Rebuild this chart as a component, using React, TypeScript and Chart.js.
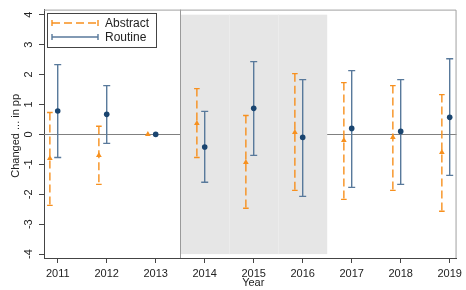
import React, { useEffect, useRef } from "react";
import { Chart, registerables } from "chart.js";
Chart.register(...registerables);

const years = [2011, 2012, 2013, 2014, 2015, 2016, 2017, 2018, 2019];
const abstractEst = [-0.8, -0.7, 0, 0.37, -0.93, 0.07, -0.2, -0.1, -0.6];
const abstractLo = [-2.37, -1.67, null, -0.77, -2.47, -1.87, -2.17, -1.87, -2.57];
const abstractHi = [0.73, 0.27, null, 1.53, 0.63, 2.03, 1.73, 1.63, 1.33];
const routineEst = [0.78, 0.67, 0, -0.42, 0.87, -0.1, 0.2, 0.1, 0.57];
const routineLo = [-0.77, -0.3, null, -1.6, -0.7, -2.07, -1.77, -1.67, -1.37];
const routineHi = [2.33, 1.63, null, 0.77, 2.43, 1.83, 2.13, 1.83, 2.53];
const yTicks = [-4, -3, -2, -1, 0, 1, 2, 3, 4];
const shadeFrom = 2013.5;
const shadeTo = 2016.5;
const shadeInner = [2014.5, 2015.5];
const shadeYMin = -4;
const shadeYMax = 4;
const abstractOffset = -0.16;

const ORANGE = "#f7901e";
const BLUE_BAR = "#58799b";
const NAVY = "#1a4570";
const FONT = "Liberation Sans, Arial, sans-serif";

const plugin = {
  id: "stataDecor",
  beforeDatasetsDraw(chart: any) {
    const { ctx, chartArea: a, scales } = chart;
    const x = scales.x, y = scales.y;
    ctx.save();
    const y0 = Math.round(y.getPixelForValue(0)) + 0.5;
    ctx.strokeStyle = "#808080";
    ctx.lineWidth = 1;
    ctx.beginPath();
    ctx.moveTo(a.left, y0);
    ctx.lineTo(a.right, y0);
    ctx.stroke();
    const sx1 = x.getPixelForValue(shadeFrom);
    const sx2 = x.getPixelForValue(shadeTo);
    const sy1 = y.getPixelForValue(shadeYMax);
    const sy2 = y.getPixelForValue(shadeYMin);
    ctx.fillStyle = "#e6e6e6";
    ctx.fillRect(sx1, sy1, sx2 - sx1, sy2 - sy1);
    ctx.strokeStyle = "#ececec";
    shadeInner.forEach((v) => {
      const px = Math.round(x.getPixelForValue(v)) + 0.5;
      ctx.beginPath();
      ctx.moveTo(px, sy1);
      ctx.lineTo(px, sy2);
      ctx.stroke();
    });
    const vx = Math.round(sx1) + 0.5;
    ctx.strokeStyle = "#9a9a9a";
    ctx.beginPath();
    ctx.moveTo(vx, a.top);
    ctx.lineTo(vx, a.bottom);
    ctx.stroke();
    chart.data.datasets.forEach((ds: any) => {
      ctx.strokeStyle = ds.barColor;
      ctx.lineWidth = 1.4;
      ds.data.forEach((pt: any, i: number) => {
        const lo = ds.errLo[i], hi = ds.errHi[i];
        if (lo == null || hi == null) return;
        const px = x.getPixelForValue(pt.x);
        const pl = y.getPixelForValue(lo);
        const ph = y.getPixelForValue(hi);
        ctx.setLineDash(ds.dash);
        ctx.beginPath();
        ctx.moveTo(px, ph);
        ctx.lineTo(px, pl);
        ctx.stroke();
        ctx.setLineDash([]);
        ctx.beginPath();
        ctx.moveTo(px - ds.capW, ph);
        ctx.lineTo(px + ds.capW, ph);
        ctx.moveTo(px - ds.capW, pl);
        ctx.lineTo(px + ds.capW, pl);
        ctx.stroke();
      });
    });
    ctx.restore();
  },
  afterDraw(chart: any) {
    const { ctx, chartArea: a, scales } = chart;
    const y = scales.y;
    ctx.save();
    ctx.strokeStyle = "#a0a0a0";
    ctx.lineWidth = 1;
    ctx.beginPath();
    ctx.moveTo(a.left, a.top + 0.5);
    ctx.lineTo(a.right - 0.5, a.top + 0.5);
    ctx.lineTo(a.right - 0.5, a.bottom);
    ctx.stroke();
    ctx.fillStyle = "#222";
    ctx.font = `11px ${FONT}`;
    ctx.textAlign = "center";
    ctx.textBaseline = "middle";
    yTicks.forEach((v) => {
      const py = y.getPixelForValue(v);
      ctx.save();
      ctx.translate(29, py);
      ctx.rotate(-Math.PI / 2);
      ctx.fillText(String(v), 0, 0);
      ctx.restore();
    });
    ctx.save();
    ctx.translate(16, (a.top + a.bottom) / 2 + 2);
    ctx.rotate(-Math.PI / 2);
    ctx.font = `11px ${FONT}`;
    ctx.fillText("Changed ... in pp", 0, 0);
    ctx.restore();
    ctx.font = `11px ${FONT}`;
    ctx.fillText("Year", (a.left + a.right) / 2 + 3, 283);
    const lx = 47.5, ly = 13.5, lw = 109, lh = 34;
    ctx.fillStyle = "#fff";
    ctx.fillRect(lx, ly, lw, lh);
    ctx.strokeStyle = "#444";
    ctx.strokeRect(lx, ly, lw, lh);
    const entries = [
      { label: "Abstract", color: ORANGE, dash: [8, 4], yy: 23 },
      { label: "Routine", color: BLUE_BAR, dash: [], yy: 37 },
    ];
    entries.forEach((e) => {
      ctx.strokeStyle = e.color;
      ctx.lineWidth = 1.4;
      ctx.setLineDash(e.dash);
      ctx.beginPath();
      ctx.moveTo(52, e.yy);
      ctx.lineTo(98, e.yy);
      ctx.stroke();
      ctx.setLineDash([]);
      ctx.beginPath();
      ctx.moveTo(52, e.yy - 3);
      ctx.lineTo(52, e.yy + 3);
      ctx.moveTo(98, e.yy - 3);
      ctx.lineTo(98, e.yy + 3);
      ctx.stroke();
      ctx.fillStyle = "#222";
      ctx.font = `12px ${FONT}`;
      ctx.textAlign = "left";
      ctx.fillText(e.label, 105, e.yy + 0.5);
    });
    ctx.restore();
  },
};

export default function App() {
  const ref = useRef<HTMLCanvasElement | null>(null);
  useEffect(() => {
    if (!ref.current) return;
    const chart = new Chart(ref.current, {
      type: "scatter",
      data: {
        datasets: [
          {
            label: "Abstract",
            data: years.map((yr, i) => ({ x: yr + abstractOffset, y: abstractEst[i] })),
            pointStyle: "triangle",
            radius: 3.3,
            backgroundColor: ORANGE,
            borderColor: ORANGE,
            borderWidth: 0,
            errLo: abstractLo,
            errHi: abstractHi,
            barColor: ORANGE,
            dash: [8, 4],
            capW: 2.8,
          } as any,
          {
            label: "Routine",
            data: years.map((yr, i) => ({ x: yr, y: routineEst[i] })),
            pointStyle: "circle",
            radius: 2.8,
            backgroundColor: NAVY,
            borderColor: NAVY,
            borderWidth: 0,
            errLo: routineLo,
            errHi: routineHi,
            barColor: BLUE_BAR,
            dash: [],
            capW: 3.5,
          } as any,
        ],
      },
      options: {
        animation: false,
        responsive: false,
        devicePixelRatio: 1,
        layout: { padding: { top: 9, right: 2, left: 0, bottom: 0 } },
        plugins: { legend: { display: false }, tooltip: { enabled: false } },
        scales: {
          x: {
            type: "linear",
            min: 2010.72,
            max: 2019.14,
            afterBuildTicks: (s: any) => {
              s.ticks = years.map((v) => ({ value: v }));
            },
            afterFit: (s: any) => {
              s.height = 32;
            },
            ticks: {
              autoSkip: false,
              maxRotation: 0,
              padding: 4,
              color: "#222",
              font: { family: FONT, size: 11 },
              callback: (v: any) => String(v),
            },
            grid: { drawOnChartArea: false, drawTicks: true, tickLength: 5, color: "#444" },
            border: { display: true, color: "#444", width: 1 },
          },
          y: {
            type: "linear",
            min: -4.13,
            max: 4.17,
            afterBuildTicks: (s: any) => {
              s.ticks = yTicks.map((v) => ({ value: v }));
            },
            afterFit: (s: any) => {
              s.width = 44;
            },
            ticks: {
              autoSkip: false,
              color: "rgba(0,0,0,0)",
              font: { family: FONT, size: 11 },
            },
            grid: { drawOnChartArea: false, drawTicks: true, tickLength: 5, color: "#444" },
            border: { display: true, color: "#444", width: 1 },
          },
        },
      },
      plugins: [plugin],
    });
    return () => chart.destroy();
  }, []);
  return (
    <div style={{ position: "fixed", left: 0, top: 0, width: 466, height: 290, background: "#fff" }}>
      <canvas ref={ref} width={466} height={290} style={{ display: "block" }} />
    </div>
  );
}
